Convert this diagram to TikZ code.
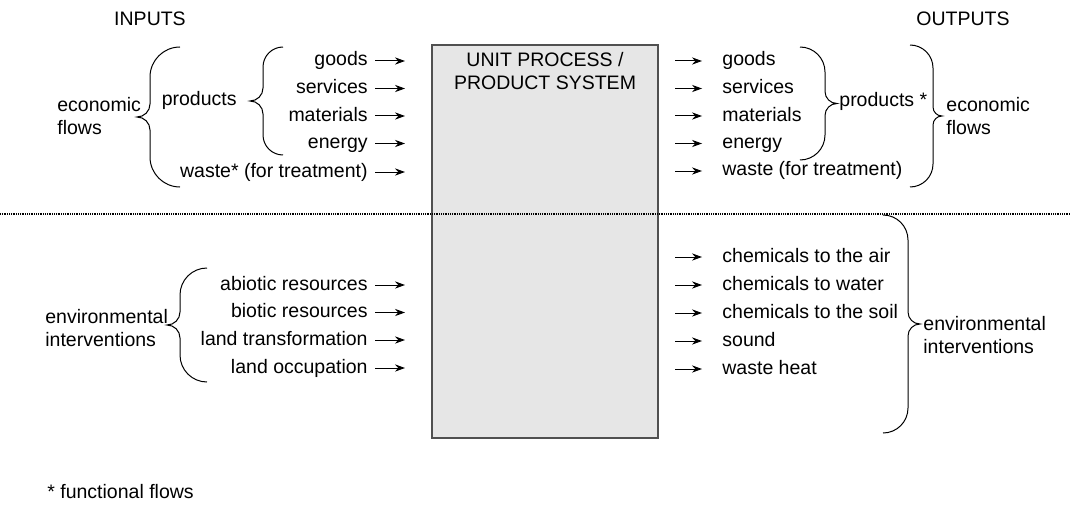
\documentclass[tikz,border=0pt]{standalone}
\usepackage{fontspec}
\setmainfont{Liberation Sans}
\usetikzlibrary{arrows.meta}
\definecolor{boxgray}{RGB}{230,230,230}
\definecolor{boxline}{RGB}{80,80,80}

% curly brace, ends at x=#1, from y=#2 down to y=#3, radii #4 (ends) and #5 (tip)
\newcommand{\lcurl}[5]{%
  \pgfmathsetmacro{\curlmid}{(#2+#3)/2}
  \draw[curl] (#1,#2) arc[start angle=90,end angle=180,radius=#4]
    -- (#1-#4,\curlmid+#5) arc[start angle=0,end angle=-90,radius=#5]
    arc[start angle=90,end angle=0,radius=#5]
    -- (#1-#4,#3+#4) arc[start angle=180,end angle=270,radius=#4];}
\newcommand{\rcurl}[5]{%
  \pgfmathsetmacro{\curlmid}{(#2+#3)/2}
  \draw[curl] (#1,#2) arc[start angle=90,end angle=0,radius=#4]
    -- (#1+#4,\curlmid+#5) arc[start angle=180,end angle=270,radius=#5]
    arc[start angle=90,end angle=180,radius=#5]
    -- (#1+#4,#3+#4) arc[start angle=0,end angle=-90,radius=#4];}

\begin{document}
\begin{tikzpicture}[
  x=0.5pt,
  y=0.5pt,
  font=\fontsize{9.75}{11.5}\selectfont,
  >={Stealth[length=5pt,width=3.6pt]},
  flow/.style={->,line width=0.5pt},
  curl/.style={line width=0.5pt},
  item/.style={inner sep=0pt,text height=7pt,text depth=2pt},
  group/.style={inner sep=0pt,align=left,anchor=west},
]
\useasboundingbox (0,0) rectangle (1070,-519);

\node[draw=boxline,fill=boxgray,line width=0.6pt,minimum width=113pt,minimum height=196.5pt] (unit) at (545,-241.5) {};
\node[inner sep=0pt,align=center,anchor=north] (unitname) at ([yshift=-4pt]unit.north) {UNIT PROCESS /\\PRODUCT SYSTEM};

\coordinate (sepL) at (0,-214);
\coordinate (sepR) at (1070,-214);
\draw[line width=0.6pt,dash pattern=on 0.5pt off 0.4pt] (sepL) -- (sepR);

\node (inputs) at (150,-19) {INPUTS};
\node (outputs) at (963,-19) {OUTPUTS};

% inputs
\node[item,anchor=east] (ingoods) at (368,-61) {goods};
\node[item,anchor=east] (inserv) at (368,-88.5) {services};
\node[item,anchor=east] (inmat) at (368,-116) {materials};
\node[item,anchor=east] (inenergy) at (368,-143.5) {energy};
\node[item,anchor=east] (inwaste) at (368,-172) {waste* (for treatment)};
\node[item,anchor=east] (inabio) at (368,-285) {abiotic resources};
\node[item,anchor=east] (inbio) at (368,-312.5) {biotic resources};
\node[item,anchor=east] (intrans) at (368,-340) {land transformation};
\node[item,anchor=east] (inocc) at (368,-368) {land occupation};

\draw[flow] ([xshift=3.5pt]ingoods.east) -- ([xshift=18.5pt]ingoods.east);
\draw[flow] ([xshift=3.5pt]inserv.east) -- ([xshift=18.5pt]inserv.east);
\draw[flow] ([xshift=3.5pt]inmat.east) -- ([xshift=18.5pt]inmat.east);
\draw[flow] ([xshift=3.5pt]inenergy.east) -- ([xshift=18.5pt]inenergy.east);
\draw[flow] ([xshift=3.5pt]inwaste.east) -- ([xshift=18.5pt]inwaste.east);
\draw[flow] ([xshift=3.5pt]inabio.east) -- ([xshift=18.5pt]inabio.east);
\draw[flow] ([xshift=3.5pt]inbio.east) -- ([xshift=18.5pt]inbio.east);
\draw[flow] ([xshift=3.5pt]intrans.east) -- ([xshift=18.5pt]intrans.east);
\draw[flow] ([xshift=3.5pt]inocc.east) -- ([xshift=18.5pt]inocc.east);

\node[item,anchor=east] (inprod) at (237,-100) {products};
\node[group] (inecon) at (57,-116) {economic\\flows};
\node[group] (inenv) at (45,-328) {environmental\\interventions};

\lcurl{283}{-47}{-155}{20}{13}
\lcurl{180}{-47}{-187}{30}{13}
\lcurl{207}{-268}{-382}{27}{13}

% outputs
\node[item,anchor=west] (outgoods) at (722,-61) {goods};
\node[item,anchor=west] (outserv) at (722,-88.5) {services};
\node[item,anchor=west] (outmat) at (722,-116) {materials};
\node[item,anchor=west] (outenergy) at (722,-143.5) {energy};
\node[item,anchor=west] (outwaste) at (722,-171) {waste (for treatment)};
\node[item,anchor=west] (outair) at (722,-257) {chemicals to the air};
\node[item,anchor=west] (outwater) at (722,-285) {chemicals to water};
\node[item,anchor=west] (outsoil) at (722,-313) {chemicals to the soil};
\node[item,anchor=west] (outsound) at (722,-341) {sound};
\node[item,anchor=west] (outheat) at (722,-369) {waste heat};

\draw[flow] ([xshift=-23.5pt]outgoods.west) -- ([xshift=-10pt]outgoods.west);
\draw[flow] ([xshift=-23.5pt]outserv.west) -- ([xshift=-10pt]outserv.west);
\draw[flow] ([xshift=-23.5pt]outmat.west) -- ([xshift=-10pt]outmat.west);
\draw[flow] ([xshift=-23.5pt]outenergy.west) -- ([xshift=-10pt]outenergy.west);
\draw[flow] ([xshift=-23.5pt]outwaste.west) -- ([xshift=-10pt]outwaste.west);
\draw[flow] ([xshift=-23.5pt]outair.west) -- ([xshift=-10pt]outair.west);
\draw[flow] ([xshift=-23.5pt]outwater.west) -- ([xshift=-10pt]outwater.west);
\draw[flow] ([xshift=-23.5pt]outsoil.west) -- ([xshift=-10pt]outsoil.west);
\draw[flow] ([xshift=-23.5pt]outsound.west) -- ([xshift=-10pt]outsound.west);
\draw[flow] ([xshift=-23.5pt]outheat.west) -- ([xshift=-10pt]outheat.west);

\node[item,anchor=west] (outprod) at (839,-102) {products *};
\node[group] (outecon) at (946,-116) {economic\\flows};
\node[group] (outenv) at (923,-335) {environmental\\interventions};

\rcurl{800}{-47}{-160}{25}{12}
\rcurl{910}{-45}{-187}{23}{9}
\rcurl{883}{-215}{-433}{25}{12}

\node[group] (note) at (47,-492) {* functional flows};

\end{tikzpicture}
\end{document}
